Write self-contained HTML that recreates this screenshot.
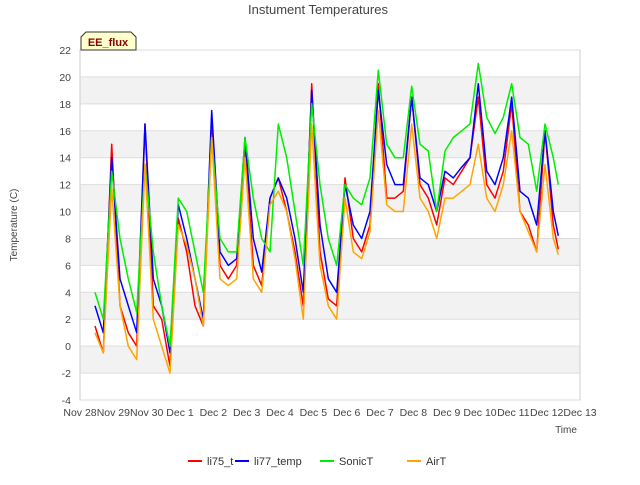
<!DOCTYPE html>
<html><head><meta charset="utf-8"><style>
body{margin:0;background:#fff;font-family:"Liberation Sans",sans-serif}
svg text{font-family:"Liberation Sans",sans-serif}
</style></head><body>
<svg id="chart" width="640" height="480" xmlns="http://www.w3.org/2000/svg">
<text x="318" y="14" text-anchor="middle" font-size="13" fill="#444">Instument Temperatures</text>
<g id="bands"></g>
<rect x="80" y="50" width="500" height="350" fill="none" stroke="#ccc"/>
<g id="axes" font-size="10.5" fill="#444"></g>
<g id="series" fill="none" stroke-width="1.5" stroke-linejoin="round"></g>
<text transform="translate(17,225) rotate(-90)" text-anchor="middle" font-size="10" fill="#444">Temperature (C)</text>
<text x="566" y="433" text-anchor="middle" font-size="10" fill="#444">Time</text>
<g>
<path d="M81,50 L81,37 L86,32 L131,32 L136,37 L136,50 Z" fill="#ffffcc" stroke="#333"/>
<text x="108" y="46" text-anchor="middle" font-size="11" font-weight="bold" fill="#8b0000">EE_flux</text>
</g>
<g id="legend" font-size="11" fill="#333"></g>
</svg>
<script>
const times=[0.45,0.7,0.95,1.2,1.45,1.7,1.95,2.2,2.45,2.7,2.95,3.2,3.45,3.7,3.95,4.2,4.45,4.7,4.95,5.2,5.45,5.7,5.95,6.2,6.45,6.7,6.95,7.2,7.45,7.7,7.95,8.2,8.45,8.7,8.95,9.2,9.45,9.7,9.95,10.2,10.45,10.7,10.95,11.2,11.45,11.7,11.95,12.2,12.45,12.7,12.95,13.2,13.45,13.7,13.95,14.2,14.35];
const li75=[1.5,-0.5,15,3,1,0,16.5,3,2,-1.5,9.5,7,3,1.5,17,6,5,6,15,6,4.5,11,12.5,10,7,3,19.5,7,3.5,3,12.5,8,7,9,19.5,11,11,11.5,18.5,12,11,9,12.5,12,13,14,18.5,12,11,13,18,10,9,7,16,9,7.2];
const li77=[3,1,14,5,3,1,16.5,5,3,-0.5,10.5,8,5,2,17.5,7,6,6.5,15.5,8,5.5,11,12.5,11,8,4,19,9,5,4,12,9,8,10,19,13.5,12,12,18.5,12.5,12,10,13,12.5,13.3,14,19.5,13,12,14,18.5,11.5,11,9,16,10,8.2];
const sonic=[4,2,13,8,5,2.5,13.5,7,3,0,11,10,7,4,15.5,8,7,7,15.5,11,8,7,16.5,14,10,6,18,12,8,6,12,11,10.5,12.5,20.5,15,14,14,19.3,15,14.5,10,14.5,15.5,16,16.5,21,17,15.8,17,19.5,15.5,15,11.5,16.5,14,12];
const air=[1,-0.5,11.8,3,0,-1,13.5,2,0,-2,9,7.5,5,1.5,15.5,5,4.5,5,14,5,4,10.5,11.5,10,6.5,2,16.5,6,3,2,11,7,6.5,8.5,17.5,10.5,10,10,16.5,11,10,8,11,11,11.5,12,15,11,10,12,16,10,8.5,7,13.5,8,6.8];
const yTicks=[-4,-2,0,2,4,6,8,10,12,14,16,18,20,22];
const xLabels=["Nov 28","Nov 29","Nov 30","Dec 1","Dec 2","Dec 3","Dec 4","Dec 5","Dec 6","Dec 7","Dec 8","Dec 9","Dec 10","Dec 11","Dec 12","Dec 13"];
const seriesNames=["li75_t","li77_temp","SonicT","AirT"];
const seriesColors=["#ff0000","#0000ff","#00ee00","#ffa500"];
const seriesData=[li75,li77,sonic,air];
const NS="http://www.w3.org/2000/svg";
const X=d=>80+d*500/15, Y=v=>400-(v+4)*350/26;
function mk(t,a,p){const e=document.createElementNS(NS,t);for(const k in a)e.setAttribute(k,a[k]);p.appendChild(e);return e;}
const bands=document.getElementById('bands');
for(let v=-2;v<22;v+=4){const r=mk('rect',{x:80,y:Y(v+2),width:500,height:Y(v)-Y(v+2),fill:'#f2f2f2'},bands);

}
const ax=document.getElementById('axes');
yTicks.forEach(v=>{const l=mk('line',{x1:80,x2:580,y1:Y(v),y2:Y(v),stroke:'#ddd'},ax);


const t=mk('text',{x:71,y:Y(v)+4,'text-anchor':'end'},ax);t.textContent=v;

});
xLabels.forEach((s,i)=>{const t=mk('text',{x:X(i),y:416,'text-anchor':'middle'},ax);t.textContent=s;

});
const sg=document.getElementById('series');
seriesData.forEach((d,k)=>{const p=mk('polyline',{points:d.map((v,i)=>X(times[i]).toFixed(1)+','+Y(v).toFixed(1)).join(' '),stroke:seriesColors[k]},sg);

});
const lg=document.getElementById('legend');
const lx=[188,235,320,407];
seriesNames.forEach((n,k)=>{const g=mk('g',{},lg);


mk('line',{x1:lx[k],x2:lx[k]+14,y1:461,y2:461,stroke:seriesColors[k],'stroke-width':2},g);
const t=mk('text',{x:lx[k]+19,y:465},g);t.textContent=n;});
</script>
</body></html>
